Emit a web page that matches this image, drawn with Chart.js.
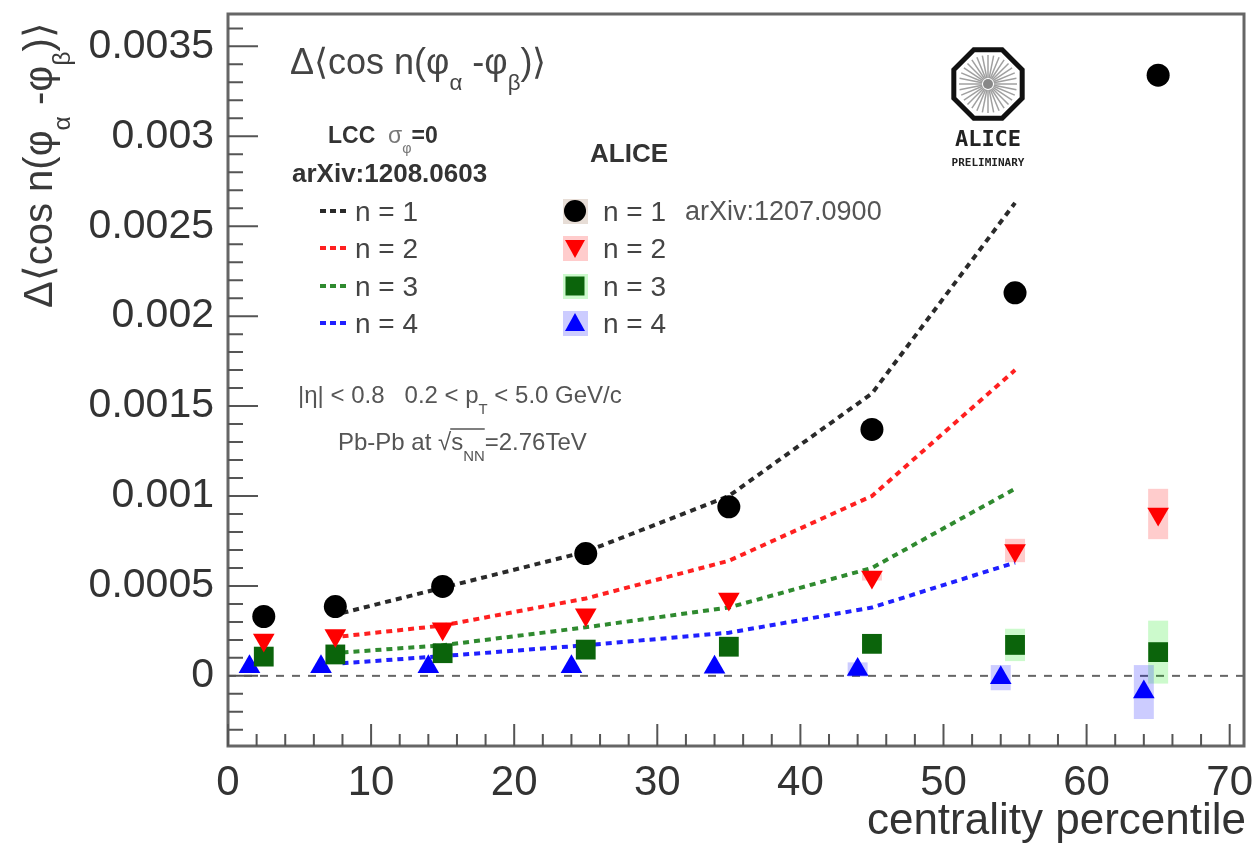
<!DOCTYPE html>
<html>
<head>
<meta charset="utf-8">
<script src="https://cdn.jsdelivr.net/npm/chart.js@4.4.0/dist/chart.umd.min.js"></script>
<style>
  html, body { margin: 0; padding: 0; background: #fff; }
  #wrap { width: 1258px; height: 843px; }
</style>
</head>
<body>
<div id="wrap"><canvas id="myCanvas" width="1258" height="843"></canvas></div>
<script>
'use strict';

// ALICE points (centrality bins), n = 4 drawn slightly shifted left
const centrality = [2.5, 7.5, 15, 25, 35, 45, 55, 65];
const centralityN4 = [1.5, 6.5, 14, 24, 34, 44, 54, 64];
const aliceN1 = [0.00033, 0.000385, 0.000497, 0.00068, 0.00094, 0.00137, 0.00213, 0.00334];
const aliceN2 = [0.0002, 0.000224, 0.000262, 0.00034, 0.000428, 0.00055, 0.000697, 0.0009];
const aliceN3 = [0.000107, 0.000119, 0.000126, 0.000146, 0.000162, 0.000178, 0.000172, 0.000132];
const aliceN4 = [0.00005, 0.00005, 0.00005, 0.00005, 0.000048, 0.000035, -0.00001, -0.00009];

// systematic boxes, half heights
const sysN1 = [0, 0, 0, 0, 0, 0, 0, 0];
const sysN2 = [0, 0, 0, 0, 0, 0.00002, 0.000065, 0.00014];
const sysN3 = [0, 0, 0, 0, 0, 0.00001, 0.00009, 0.000175];
const sysN4 = [0, 0, 0, 0, 0, 0.00004, 0.00007, 0.00015];

// LCC model, sigma_phi = 0
const modelX = [8, 15, 25, 35, 45, 55];
const lccN1 = [0.00035, 0.00049, 0.00069, 0.001, 0.00157, 0.00263];
const lccN2 = [0.00022, 0.00028, 0.00043, 0.00064, 0.001, 0.0017];
const lccN3 = [0.00013, 0.00017, 0.00027, 0.00038, 0.0006, 0.00104];
const lccN4 = [0.00007, 0.00011, 0.00017, 0.00024, 0.00038, 0.00063];

const xTicks = [0, 10, 20, 30, 40, 50, 60, 70];
const yTicks = [0, 0.0005, 0.001, 0.0015, 0.002, 0.0025, 0.003, 0.0035];
const yTickLabels = ['0', '0.0005', '0.001', '0.0015', '0.002', '0.0025', '0.003', '0.0035'];

const FONT = '"Liberation Sans", Arial, Helvetica, sans-serif';
const colN = ['#000000', '#ff0000', '#0b640b', '#0000ff'];
const lineCol = ['#2a2a2a', '#ff2020', '#2f8a2f', '#2020ff'];
const boxCol = ['rgba(160,120,90,0.25)', 'rgba(255,0,0,0.2)', 'rgba(0,230,0,0.2)', 'rgba(0,0,255,0.2)'];

function pairs(xs, ys) {
  return xs.map((x, i) => ({x: x, y: ys[i]}));
}

// text with sub-scripts
function drawRich(ctx, x, y, parts, size, color, align) {
  const runs = parts.map(p => {
    const s = p.sub ? size * 0.62 : size;
    const font = (p.bold ? 'bold ' : '') + s.toFixed(1) + 'px ' + FONT;
    ctx.font = font;
    return {t: p.t, font: font, w: ctx.measureText(p.t).width, dy: p.sub ? size * 0.45 : 0, color: p.color || color};
  });
  const total = runs.reduce((a, r) => a + r.w, 0);
  let cx = align === 'center' ? x - total / 2 : (align === 'right' ? x - total : x);
  ctx.textAlign = 'left';
  ctx.textBaseline = 'alphabetic';
  const pos = [];
  runs.forEach(r => {
    ctx.font = r.font;
    ctx.fillStyle = r.color;
    ctx.fillText(r.t, cx, y + r.dy);
    pos.push({x: cx, w: r.w});
    cx += r.w;
  });
  return pos;
}

function marker(ctx, kind, x, y, color) {
  ctx.fillStyle = color;
  ctx.beginPath();
  if (kind === 0) {
    ctx.arc(x, y, 11, 0, Math.PI * 2);
  } else if (kind === 1) {
    ctx.moveTo(x - 10, y - 8); ctx.lineTo(x + 10, y - 8); ctx.lineTo(x, y + 10);
  } else if (kind === 2) {
    ctx.rect(x - 9.5, y - 9.5, 19, 19);
  } else {
    ctx.moveTo(x - 10, y + 8); ctx.lineTo(x + 10, y + 8); ctx.lineTo(x, y - 10);
  }
  ctx.closePath();
  ctx.fill();
}

function drawLogo(ctx, cx, cy) {
  ctx.save();
  const r = 37;
  // rays
  ctx.strokeStyle = '#a0a0a0';
  ctx.lineWidth = 1.5;
  for (let i = 0; i < 32; i++) {
    const a = i * Math.PI * 2 / 32;
    ctx.beginPath();
    ctx.moveTo(cx + Math.cos(a) * 6, cy + Math.sin(a) * 6);
    ctx.lineTo(cx + Math.cos(a) * 29, cy + Math.sin(a) * 29);
    ctx.stroke();
  }
  ctx.fillStyle = '#888';
  ctx.beginPath(); ctx.arc(cx, cy, 5, 0, Math.PI * 2); ctx.fill();
  ctx.strokeStyle = '#111';
  ctx.lineWidth = 5;
  ctx.beginPath();
  for (let i = 0; i < 8; i++) {
    const a = Math.PI / 8 + i * Math.PI / 4;
    const px = cx + Math.cos(a) * r, py = cy + Math.sin(a) * r;
    if (i === 0) ctx.moveTo(px, py); else ctx.lineTo(px, py);
  }
  ctx.closePath();
  ctx.stroke();
  ctx.fillStyle = '#222';
  ctx.textAlign = 'center';
  ctx.textBaseline = 'alphabetic';
  ctx.font = 'bold 22px "DejaVu Sans Mono", monospace';
  ctx.fillText('ALICE', cx, cy + 62);
  ctx.font = 'bold 11px "DejaVu Sans Mono", monospace';
  ctx.fillText('PRELIMINARY', cx, cy + 82);
  ctx.restore();
}

const titleParts = [{t: 'Δ⟨cos n(φ'}, {t: 'α', sub: true}, {t: ' -φ'}, {t: 'β', sub: true}, {t: ')⟩'}];

const decor = {
  id: 'decor',
  beforeDatasetsDraw(chart) {
    const ctx = chart.ctx, xs = chart.scales.x, ys = chart.scales.y, a = chart.chartArea;
    ctx.save();
    // zero line
    ctx.strokeStyle = '#666';
    ctx.lineWidth = 2;
    ctx.setLineDash([8, 8]);
    ctx.beginPath();
    ctx.moveTo(a.left, ys.getPixelForValue(0));
    ctx.lineTo(a.right, ys.getPixelForValue(0));
    ctx.stroke();
    ctx.setLineDash([]);
    // systematic boxes
    const sets = [[centrality, aliceN1, sysN1], [centrality, aliceN2, sysN2], [centrality, aliceN3, sysN3], [centralityN4, aliceN4, sysN4]];
    sets.forEach((s, k) => {
      ctx.fillStyle = boxCol[k];
      s[0].forEach((x, i) => {
        if (!s[2][i]) return;
        const px = xs.getPixelForValue(x);
        const top = ys.getPixelForValue(s[1][i] + s[2][i]);
        const bot = ys.getPixelForValue(s[1][i] - s[2][i]);
        ctx.fillRect(px - 10, top, 20, bot - top);
      });
    });
    ctx.restore();
  },
  afterDraw(chart) {
    const ctx = chart.ctx, xs = chart.scales.x, ys = chart.scales.y, a = chart.chartArea;
    ctx.save();
    // frame
    ctx.strokeStyle = '#666';
    ctx.lineWidth = 3;
    ctx.strokeRect(a.left, a.top, a.right - a.left, a.bottom - a.top);
    // ticks, inside the frame
    ctx.lineWidth = 2;
    ctx.strokeStyle = '#555';
    ctx.beginPath();
    for (let v = 0; v <= 70; v += 2) {
      const px = xs.getPixelForValue(v);
      const len = v % 10 === 0 ? 22 : 12;
      ctx.moveTo(px, a.bottom);
      ctx.lineTo(px, a.bottom - len);
    }
    for (let k = -3; k <= 36; k++) {
      const py = ys.getPixelForValue(k * 0.0001);
      const len = k % 5 === 0 ? 30 : 15;
      ctx.moveTo(a.left, py);
      ctx.lineTo(a.left + len, py);
    }
    ctx.stroke();

    // axis titles
    ctx.fillStyle = '#333';
    ctx.font = '44px ' + FONT;
    ctx.textAlign = 'right';
    ctx.textBaseline = 'alphabetic';
    ctx.fillText('centrality percentile', 1246, 834);

    ctx.save();
    ctx.translate(52, 308);
    ctx.rotate(-Math.PI / 2);
    drawRich(ctx, 0, 0, titleParts, 40, '#3a3a3a');
    ctx.restore();

    // in-frame title
    drawRich(ctx, 290, 74, titleParts, 36, '#444');

    // model block
    drawRich(ctx, 328, 143, [{t: 'LCC ', bold: true}, {t: ' σ', color: '#777'}, {t: 'φ', sub: true, color: '#777'}, {t: '=0', bold: true}], 23, '#333');
    drawRich(ctx, 292, 182, [{t: 'arXiv:1208.0603', bold: true}], 26, '#333');
    const rows = [211, 248, 286, 323];
    rows.forEach((ry, i) => {
      ctx.strokeStyle = lineCol[i];
      ctx.lineWidth = 4;
      ctx.setLineDash([6, 4]);
      ctx.beginPath();
      ctx.moveTo(320, ry);
      ctx.lineTo(348, ry);
      ctx.stroke();
      ctx.setLineDash([]);
      drawRich(ctx, 355, ry + 10, [{t: 'n = ' + (i + 1)}], 28, '#444');
    });

    // ALICE block
    drawRich(ctx, 590, 162, [{t: 'ALICE', bold: true}], 26, '#333');
    rows.forEach((ry, i) => {
      ctx.fillStyle = boxCol[i];
      ctx.fillRect(563, ry - 12, 25, 25);
      marker(ctx, i, 575, ry, colN[i]);
      drawRich(ctx, 603, ry + 10, [{t: 'n = ' + (i + 1)}], 28, '#444');
    });
    drawRich(ctx, 685, 220, [{t: 'arXiv:1207.0900'}], 27, '#555');

    // cuts
    drawRich(ctx, 298, 403, [{t: '|η| < 0.8   0.2 < p'}, {t: 'T', sub: true}, {t: ' < 5.0 GeV/c'}], 24, '#555');
    const p = drawRich(ctx, 338, 450, [{t: 'Pb-Pb at '}, {t: '√'}, {t: 's'}, {t: 'NN', sub: true}, {t: '=2.76TeV'}], 24, '#555');
    ctx.strokeStyle = '#555';
    ctx.lineWidth = 1.5;
    ctx.beginPath();
    ctx.moveTo(p[1].x + p[1].w - 1, 450 - 21);
    ctx.lineTo(p[3].x + p[3].w, 450 - 21);
    ctx.stroke();

    drawLogo(ctx, 988, 84);
    ctx.restore();
  }
};

const ctx = document.getElementById('myCanvas').getContext('2d');
const myChart = new Chart(ctx, {
  type: 'scatter',
  data: {
    datasets: [
      {label: 'ALICE n = 1', data: pairs(centrality, aliceN1), pointStyle: 'circle', pointRadius: 11.5, backgroundColor: colN[0], borderWidth: 0, order: 0},
      {label: 'ALICE n = 2', data: pairs(centrality, aliceN2), pointStyle: 'triangle', rotation: 180, pointRadius: 12.5, backgroundColor: colN[1], borderWidth: 0, order: 0},
      {label: 'ALICE n = 3', data: pairs(centrality, aliceN3), pointStyle: 'rect', pointRadius: 14, backgroundColor: colN[2], borderWidth: 0, order: 0},
      {label: 'ALICE n = 4', data: pairs(centralityN4, aliceN4), pointStyle: 'triangle', pointRadius: 12.5, backgroundColor: colN[3], borderWidth: 0, order: 0},
      {label: 'LCC n = 1', data: pairs(modelX, lccN1), showLine: true, pointRadius: 0, borderColor: lineCol[0], borderWidth: 4, borderDash: [6, 5], order: 1},
      {label: 'LCC n = 2', data: pairs(modelX, lccN2), showLine: true, pointRadius: 0, borderColor: lineCol[1], borderWidth: 4, borderDash: [6, 5], order: 1},
      {label: 'LCC n = 3', data: pairs(modelX, lccN3), showLine: true, pointRadius: 0, borderColor: lineCol[2], borderWidth: 4, borderDash: [6, 5], order: 1},
      {label: 'LCC n = 4', data: pairs(modelX, lccN4), showLine: true, pointRadius: 0, borderColor: lineCol[3], borderWidth: 4, borderDash: [6, 5], order: 1}
    ]
  },
  options: {
    responsive: false,
    animation: false,
    events: [],
    layout: {padding: {left: 0, top: 13, right: 8, bottom: 0}},
    plugins: {legend: {display: false}, tooltip: {enabled: false}},
    scales: {
      x: {
        type: 'linear', min: 0, max: 71,
        grid: {display: false}, border: {display: false},
        afterBuildTicks: s => { s.ticks = xTicks.map(v => ({value: v})); },
        afterFit: s => { s.height = 97; s.paddingLeft = 0; s.paddingRight = 0; },
        ticks: {font: {family: FONT, size: 42}, color: '#333', padding: 4, maxRotation: 0, autoSkip: false}
      },
      y: {
        type: 'linear', min: -0.00039, max: 0.00368,
        grid: {display: false}, border: {display: false},
        afterBuildTicks: s => { s.ticks = yTicks.map(v => ({value: v})); },
        afterFit: s => { s.width = 228; s.paddingTop = 0; s.paddingBottom = 0; },
        ticks: {font: {family: FONT, size: 41}, color: '#333', padding: 6, autoSkip: false,
          callback: (v, i) => yTickLabels[i]}
      }
    }
  },
  plugins: [decor]
});
</script>
</body>
</html>
